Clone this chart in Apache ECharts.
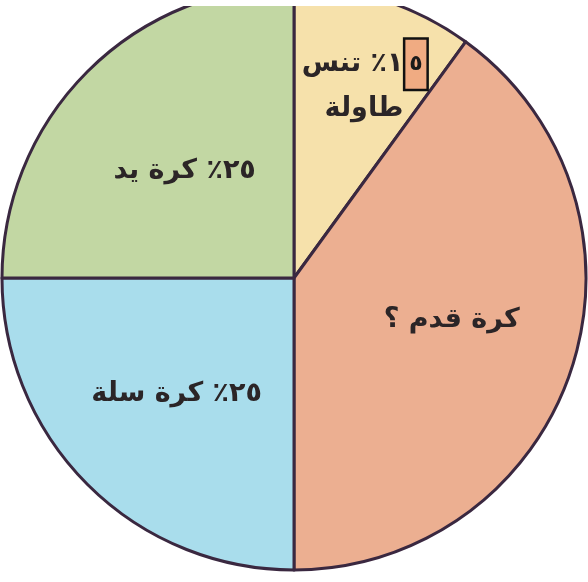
<!DOCTYPE html>
<html>
<head>
<meta charset="utf-8">
<script src="https://cdn.jsdelivr.net/npm/echarts@6/dist/echarts.min.js"></script>
<style>
  html, body { margin: 0; padding: 0; background: #ffffff; }
  #chart { width: 588px; height: 582px; }
</style>
</head>
<body>
<div id="chart"></div>
<script>
// Sports categories (clockwise from the top)
const categories = ['تنس طاولة', 'كرة قدم', 'كرة سلة', 'كرة يد'];
// Slice sizes as drawn in the picture (percent)
const values = [10, 40, 25, 25];
// Percent texts printed on the slices
const percentLabels = ['١٥٪', '؟', '٢٥٪', '٢٥٪'];

const colors = ['#F6E1AB', '#ECAF91', '#A9DDEC', '#C2D7A3'];
const labelShift = [[24, -52], [16, -4], [-12, 11], [-4, -2]];

const chart = echarts.init(document.getElementById('chart'), null, { renderer: 'canvas' });

function formatLabel(p) {
  const i = p.dataIndex;
  if (i === 0) {
    // "١٥٪ تنس" with the digit ٥ highlighted in a box, then "طاولة"
    const pct = percentLabels[0];
    return '{t|' + pct.charAt(0) + pct.charAt(2) + ' تنس}{gap| }{box|' + pct.charAt(1) + '}\n{t2|طاولة}';
  }
  if (i === 1) {
    return '{t|' + categories[1] + ' ' + percentLabels[1] + '}';
  }
  return '{t|' + percentLabels[i] + ' ' + categories[i] + '}';
}

const textBase = { fontFamily: 'DejaVu Sans', fontWeight: 'bold', fontSize: 27, color: '#2b2527' };

chart.setOption({
  animation: false,
  backgroundColor: '#ffffff',
  series: [{
    type: 'pie',
    center: [294, 278],
    radius: [0, 292],
    startAngle: 90,
    clockwise: true,
    silent: true,
    avoidLabelOverlap: false,
    itemStyle: { borderColor: '#3a2840', borderWidth: 3 },
    labelLine: { show: false },
    label: {
      show: true,
      position: 'inside',
      formatter: formatLabel,
      rich: {
        t: Object.assign({ lineHeight: 38 }, textBase),
        t2: Object.assign({ lineHeight: 40 }, textBase),
        gap: { fontSize: 6, width: 2 },
        box: {
          fontFamily: 'DejaVu Sans', fontWeight: 'bold', fontSize: 22, color: '#1a1a1a',
          backgroundColor: '#F0AB82', borderColor: '#111111', borderWidth: 2.5,
          width: 21, height: 49, align: 'center', verticalAlign: 'middle'
        }
      }
    },
    labelLayout: function (p) {
      const s = labelShift[p.dataIndex];
      return { dx: s[0], dy: s[1] };
    },
    data: categories.map(function (c, i) {
      return { name: c, value: values[i], itemStyle: { color: colors[i] } };
    })
  }],
  graphic: [{
    type: 'rect',
    left: 0, top: 0, z: 100,
    shape: { width: 588, height: 6 },
    style: { fill: '#ffffff' }
  }]
});
</script>
</body>
</html>
